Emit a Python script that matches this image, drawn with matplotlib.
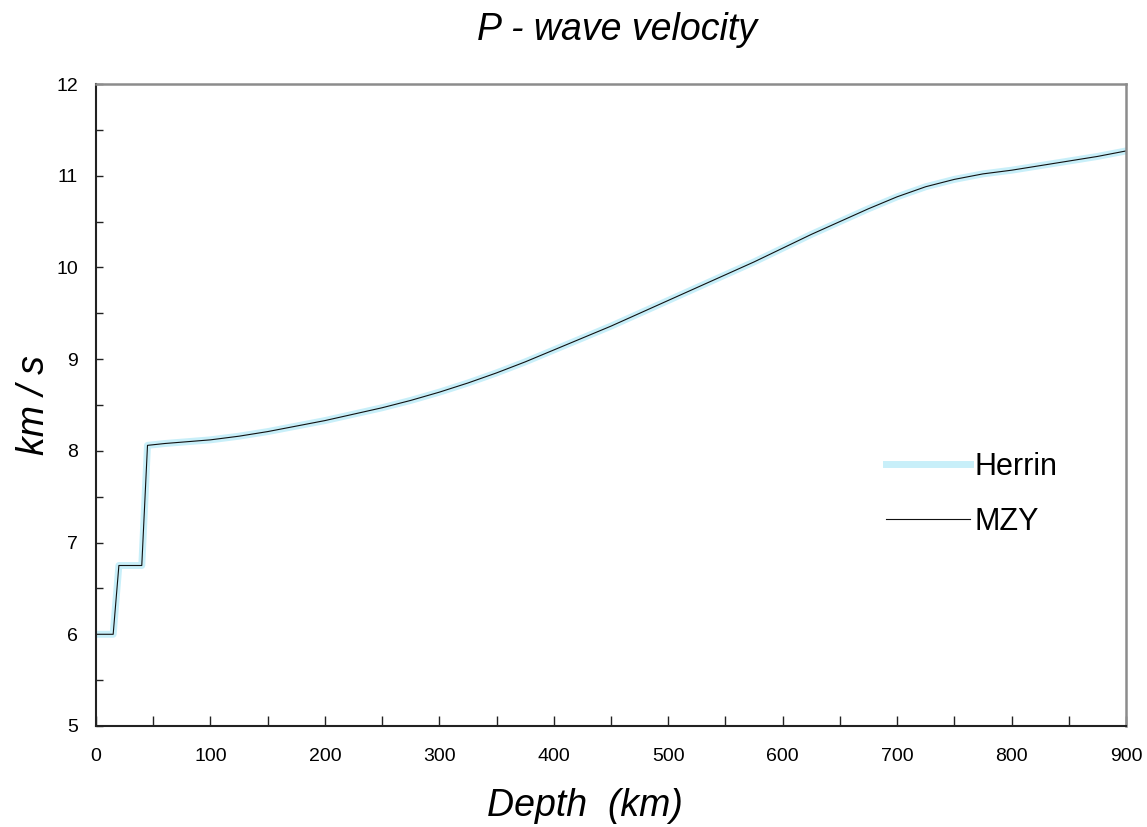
import matplotlib
matplotlib.use("Agg")
import matplotlib.pyplot as plt
from matplotlib.ticker import MultipleLocator

plt.rcParams['font.family'] = ['Liberation Sans', 'DejaVu Sans']

# P-wave velocity (km/s) against depth (km)
depth = [0, 15, 20, 40, 45, 60, 80, 100, 125, 150, 175, 200, 225, 250, 275,
         300, 325, 350, 375, 400, 425, 450, 475, 500, 525, 550, 575, 600,
         625, 650, 675, 700, 725, 750, 775, 800, 825, 850, 875, 900]
herrin_v = [6.00, 6.00, 6.75, 6.75, 8.06, 8.08, 8.10, 8.12, 8.16, 8.21, 8.27,
            8.33, 8.40, 8.47, 8.55, 8.64, 8.74, 8.85, 8.97, 9.10, 9.23, 9.36,
            9.50, 9.64, 9.78, 9.92, 10.06, 10.21, 10.36, 10.50, 10.64, 10.77,
            10.88, 10.96, 11.02, 11.06, 11.11, 11.16, 11.21, 11.27]
mzy_v = [6.00, 6.00, 6.75, 6.75, 8.06, 8.08, 8.10, 8.12, 8.16, 8.21, 8.27,
         8.33, 8.40, 8.47, 8.55, 8.64, 8.74, 8.85, 8.97, 9.10, 9.23, 9.36,
         9.50, 9.64, 9.78, 9.92, 10.06, 10.21, 10.36, 10.50, 10.64, 10.77,
         10.88, 10.96, 11.02, 11.06, 11.11, 11.16, 11.21, 11.27]

W, H = 1147, 827
fig = plt.figure(figsize=(W / 100, H / 100), dpi=100)
ax = fig.add_axes([96 / W, 1 - 726 / H, (1126 - 96) / W, (726 - 84) / H])

ax.plot(depth, herrin_v, color='#c8eff9', lw=5, label='Herrin',
        solid_joinstyle='round')
ax.plot(depth, mzy_v, color='#111111', lw=0.8, label='MZY')

ax.set_xlim(0, 900)
ax.set_ylim(5, 12)
ax.xaxis.set_major_locator(MultipleLocator(100))
ax.xaxis.set_minor_locator(MultipleLocator(50))
ax.yaxis.set_major_locator(MultipleLocator(1))
ax.yaxis.set_minor_locator(MultipleLocator(0.5))
ax.tick_params(which='both', direction='in', top=False, right=False,
               labelsize=14, color='#222222', width=1)
ax.tick_params(axis='x', which='both', length=7)
ax.tick_params(axis='y', which='both', length=5)
ax.tick_params(axis='x', pad=16)
ax.tick_params(axis='y', pad=13)

for side in ('left', 'bottom'):
    ax.spines[side].set_color('#222222')
    ax.spines[side].set_linewidth(1.5)
for side in ('top', 'right'):
    ax.spines[side].set_color('#8c8c8c')
    ax.spines[side].set_linewidth(1.8)

fig.text(617 / W, 1 - 30 / H, 'P - wave velocity', ha='center', va='center',
         fontsize=27, style='italic')
fig.text(585 / W, 1 - 806 / H, 'Depth  (km)', ha='center', va='center',
         fontsize=27, style='italic')
fig.text(34 / W, 1 - 405 / H, 'km / s', ha='center', va='center',
         fontsize=27, style='italic', rotation=90)

ax.legend(loc='upper left', bbox_to_anchor=(886 / W, 1 - 452 / H),
          bbox_transform=fig.transFigure, frameon=True, facecolor='white',
          edgecolor='none', fancybox=False, fontsize=22, handlelength=2.75,
          handletextpad=0.15, labelspacing=0.82, borderpad=0.0,
          borderaxespad=0)

fig.savefig('out.png', dpi=100)
